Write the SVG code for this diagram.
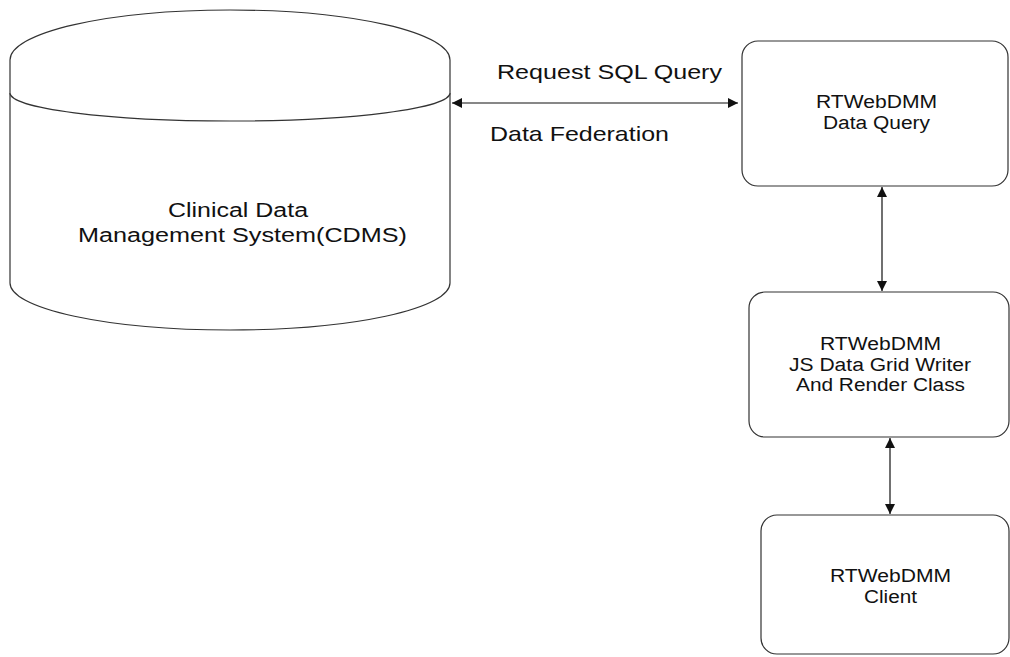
<svg xmlns="http://www.w3.org/2000/svg" width="1010" height="657" viewBox="0 0 1010 657">
<style>
.shape{fill:#fff;stroke:#333;stroke-width:1.2}
.conn{stroke:#111;stroke-width:1.2;fill:none}
text{font-family:"Liberation Sans",Arial,sans-serif;fill:#111;text-anchor:middle}
.t20{font-size:20px}
.t21{font-size:21px}
.t18{font-size:18px}
</style>
<defs>
<marker id="ah" viewBox="0 0 10 10" refX="10" refY="5" markerWidth="15" markerHeight="10" markerUnits="userSpaceOnUse" orient="auto-start-reverse">
<path d="M0,0 L10,5 L0,10 z" fill="#111"/>
</marker>
</defs>
<rect width="1010" height="657" fill="#fff"/>
<g id="cdms">
<path class="shape" d="M10,60 A220,50 0 0 1 450,60 L450,283 A220,47 0 0 1 10,283 Z"/>
<path class="shape" fill="none" d="M10,93 A220,28 0 0 0 450,93"/>
<text class="t20" x="238" y="217" textLength="140" lengthAdjust="spacingAndGlyphs">Clinical Data</text>
<text class="t20" x="242.5" y="242" textLength="329" lengthAdjust="spacingAndGlyphs">Management System(CDMS)</text>
</g>
<g id="dataquery">
<rect class="shape" x="742" y="41" width="266" height="145" rx="16"/>
<text class="t18" x="876.5" y="108" textLength="121" lengthAdjust="spacingAndGlyphs">RTWebDMM</text>
<text class="t18" x="876.5" y="129" textLength="107" lengthAdjust="spacingAndGlyphs">Data Query</text>
</g>
<g id="gridwriter">
<rect class="shape" x="749" y="292" width="260" height="145" rx="16"/>
<text class="t18" x="880.5" y="350" textLength="121" lengthAdjust="spacingAndGlyphs">RTWebDMM</text>
<text class="t18" x="880" y="371" textLength="182" lengthAdjust="spacingAndGlyphs">JS Data Grid Writer</text>
<text class="t18" x="880.5" y="391" textLength="169" lengthAdjust="spacingAndGlyphs">And Render Class</text>
</g>
<g id="client">
<rect class="shape" x="761" y="515" width="248" height="139" rx="16"/>
<text class="t18" x="890.5" y="582" textLength="121" lengthAdjust="spacingAndGlyphs">RTWebDMM</text>
<text class="t18" x="890.5" y="603" textLength="53" lengthAdjust="spacingAndGlyphs">Client</text>
</g>
<g id="connectors">
<line class="conn" x1="452" y1="103" x2="738" y2="103" marker-start="url(#ah)" marker-end="url(#ah)"/>
<line class="conn" x1="882" y1="187" x2="882" y2="291" marker-start="url(#ah)" marker-end="url(#ah)"/>
<line class="conn" x1="890" y1="438" x2="890" y2="514" marker-start="url(#ah)" marker-end="url(#ah)"/>
<text class="t21" x="609.5" y="79" textLength="225" lengthAdjust="spacingAndGlyphs">Request SQL Query</text>
<text class="t21" x="579.5" y="141" textLength="179" lengthAdjust="spacingAndGlyphs">Data Federation</text>
</g>
</svg>
